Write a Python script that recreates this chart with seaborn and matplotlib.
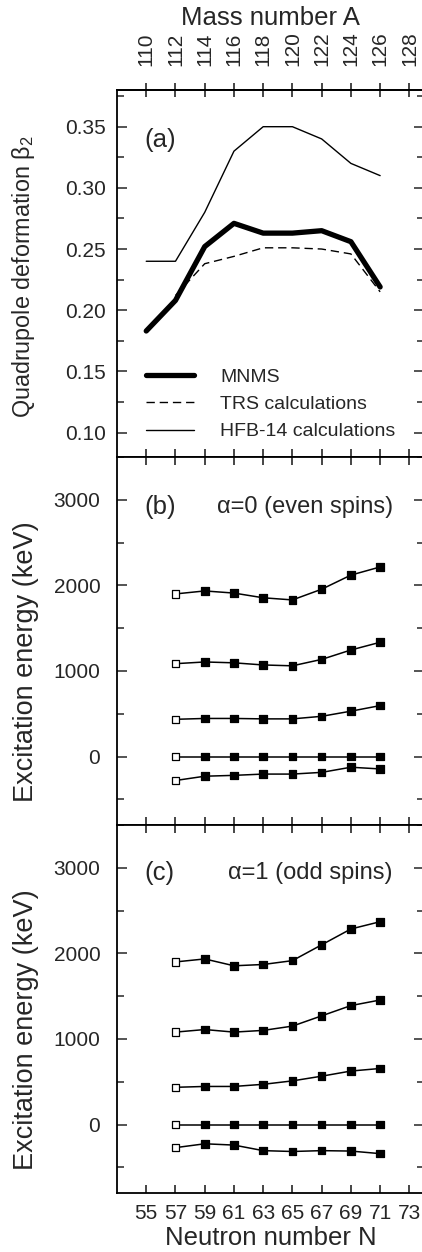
import numpy as np
import pandas as pd
import seaborn as sns
import matplotlib
matplotlib.use('Agg')
import matplotlib.pyplot as plt
from matplotlib.ticker import MultipleLocator, FormatStrFormatter

# neutron numbers
N_a = [55, 57, 59, 61, 63, 65, 67, 69, 71]
N_trs = [57, 59, 61, 63, 65, 67, 69, 71]
N_lev = [57, 59, 61, 63, 65, 67, 69, 71]

# panel (a): quadrupole deformation
beta_mnms = [0.183, 0.208, 0.252, 0.271, 0.263, 0.263, 0.265, 0.256, 0.219]
beta_trs = [0.212, 0.238, 0.244, 0.251, 0.251, 0.250, 0.246, 0.215]
beta_hfb = [0.24, 0.24, 0.28, 0.33, 0.35, 0.35, 0.34, 0.32, 0.31]

# panel (b): alpha=0 levels (keV)
even_levels = [
    [1900, 1935, 1910, 1855, 1830, 1955, 2120, 2215],
    [1085, 1105, 1095, 1070, 1060, 1135, 1245, 1335],
    [435, 445, 445, 440, 440, 470, 530, 595],
    [0, 0, 0, 0, 0, 0, 0, 0],
    [-280, -230, -220, -205, -205, -185, -125, -145],
]
# panel (c): alpha=1 levels (keV)
odd_levels = [
    [1900, 1935, 1855, 1870, 1915, 2100, 2285, 2370],
    [1080, 1110, 1080, 1100, 1150, 1270, 1390, 1455],
    [435, 445, 445, 470, 510, 565, 625, 655],
    [0, 0, 0, 0, 0, 0, 0, 0],
    [-270, -225, -240, -305, -315, -305, -310, -340],
]

sns.set_style('ticks')
plt.rcParams['font.family'] = ['Liberation Sans', 'DejaVu Sans']
plt.rcParams['mathtext.fontset'] = 'custom'
plt.rcParams['mathtext.rm'] = 'Liberation Sans'
plt.rcParams['mathtext.it'] = 'Liberation Sans'
plt.rcParams['axes.linewidth'] = 1.3

fig = plt.figure(figsize=(4.22, 12.52), dpi=100)
W = (424 - 117) / 422
L = 117 / 422
ax_a = fig.add_axes([L, 1 - 457 / 1252, W, 367 / 1252])
ax_b = fig.add_axes([L, 1 - 825 / 1252, W, 368 / 1252])
ax_c = fig.add_axes([L, 1 - 1193 / 1252, W, 368 / 1252])

TICK_FS = 15
LABEL_FS = 18.5

# ---- panel (a)
sns.lineplot(x=N_a, y=beta_mnms, ax=ax_a, color='k', lw=3.8, label='MNMS')
sns.lineplot(x=N_trs, y=beta_trs, ax=ax_a, color='k', lw=1.0,
             label='TRS calculations')
ax_a.lines[-1].set_dashes((6, 3.5))
sns.lineplot(x=N_a, y=beta_hfb, ax=ax_a, color='k', lw=1.0, label='HFB-14 calculations')
ax_a.set_ylim(0.08, 0.38)
ax_a.yaxis.set_major_locator(MultipleLocator(0.05))
ax_a.yaxis.set_minor_locator(MultipleLocator(0.025))
ax_a.yaxis.set_major_formatter(FormatStrFormatter('%.2f'))
ax_a.set_ylabel(r'Quadrupole deformation $\mathrm{\beta}_2$', fontsize=16.8)
ax_a.yaxis.set_label_coords(-0.26, 0.49)
ax_a.legend(loc='lower left', bbox_to_anchor=(0.095, 0.045), frameon=False,
            fontsize=14, handlelength=2.45, handletextpad=1.35,
            labelspacing=0.5, borderpad=0, borderaxespad=0)
ax_a.text(0.09, 0.864, '(a)', transform=ax_a.transAxes, fontsize=LABEL_FS, va='center')

sec = ax_a.secondary_xaxis('top', functions=(lambda n: n + 55, lambda a: a - 55))
sec.set_xticks(np.arange(110, 129, 2))
sec.tick_params(direction='inout', length=10, width=1.2, labelsize=TICK_FS,
                labelrotation=90, pad=12)
sec.set_xlabel('Mass number A', fontsize=LABEL_FS, labelpad=5)
sec.spines['top'].set_color('k')


def level_frame(levels):
    rows = []
    for k, vals in enumerate(levels):
        for i, (n, e) in enumerate(zip(N_lev, vals)):
            rows.append({'N': n, 'E': e, 'level': k, 'first': i == 0})
    return pd.DataFrame(rows)


for ax, levels, tag, txt, tx, ty in [
        (ax_b, even_levels, '(b)', '\u03b1=0 (even spins)', 0.326, 0.864),
        (ax_c, odd_levels, '(c)', '\u03b1=1 (odd spins)', 0.362, 0.870)]:
    df = level_frame(levels)
    sns.lineplot(data=df, x='N', y='E', units='level', estimator=None,
                 color='k', lw=1.1, legend=False, ax=ax)
    sns.scatterplot(data=df, x='N', y='E', hue='first',
                    palette={True: 'white', False: 'black'}, marker='s', s=30,
                    edgecolor='k', linewidth=0.9, legend=False, ax=ax, zorder=3)
    ax.set_ylim(-800, 3500)
    ax.yaxis.set_major_locator(MultipleLocator(1000))
    ax.yaxis.set_minor_locator(MultipleLocator(500))
    ax.set_ylabel('Excitation energy (keV)', fontsize=19.5)
    ax.yaxis.set_label_coords(-0.255, 0.443)
    ax.text(0.09, ty, tag, transform=ax.transAxes, fontsize=LABEL_FS, va='center')
    ax.text(tx, ty, txt, transform=ax.transAxes, fontsize=17, va='center')

for ax in (ax_a, ax_b, ax_c):
    ax.set_xlim(53, 74)
    ax.set_xticks(np.arange(55, 74, 2))
    ax.tick_params(axis='x', which='both', direction='in', top=True, bottom=True,
                   length=6, width=1.2, labelbottom=False, labelsize=TICK_FS)
    ax.tick_params(axis='y', which='major', direction='in', left=True, right=True,
                   length=7, width=1.1, labelsize=TICK_FS)
    ax.tick_params(axis='y', which='minor', direction='in', left=True, right=True,
                   length=5, width=1.1)
    ax.set_xlabel('')
    ax.spines['right'].set_visible(False)
    for s in ax.spines.values():
        s.set_color('k')

ax_a.tick_params(axis='x', top=False)
ax_a.tick_params(axis='y', pad=8)
ax_b.tick_params(axis='y', pad=12)
ax_c.tick_params(axis='y', pad=12)
ax_c.tick_params(axis='x', labelbottom=True, pad=8)
ax_c.set_xlabel('Neutron number N', fontsize=LABEL_FS, labelpad=2)

fig.savefig('out.png', dpi=100)
